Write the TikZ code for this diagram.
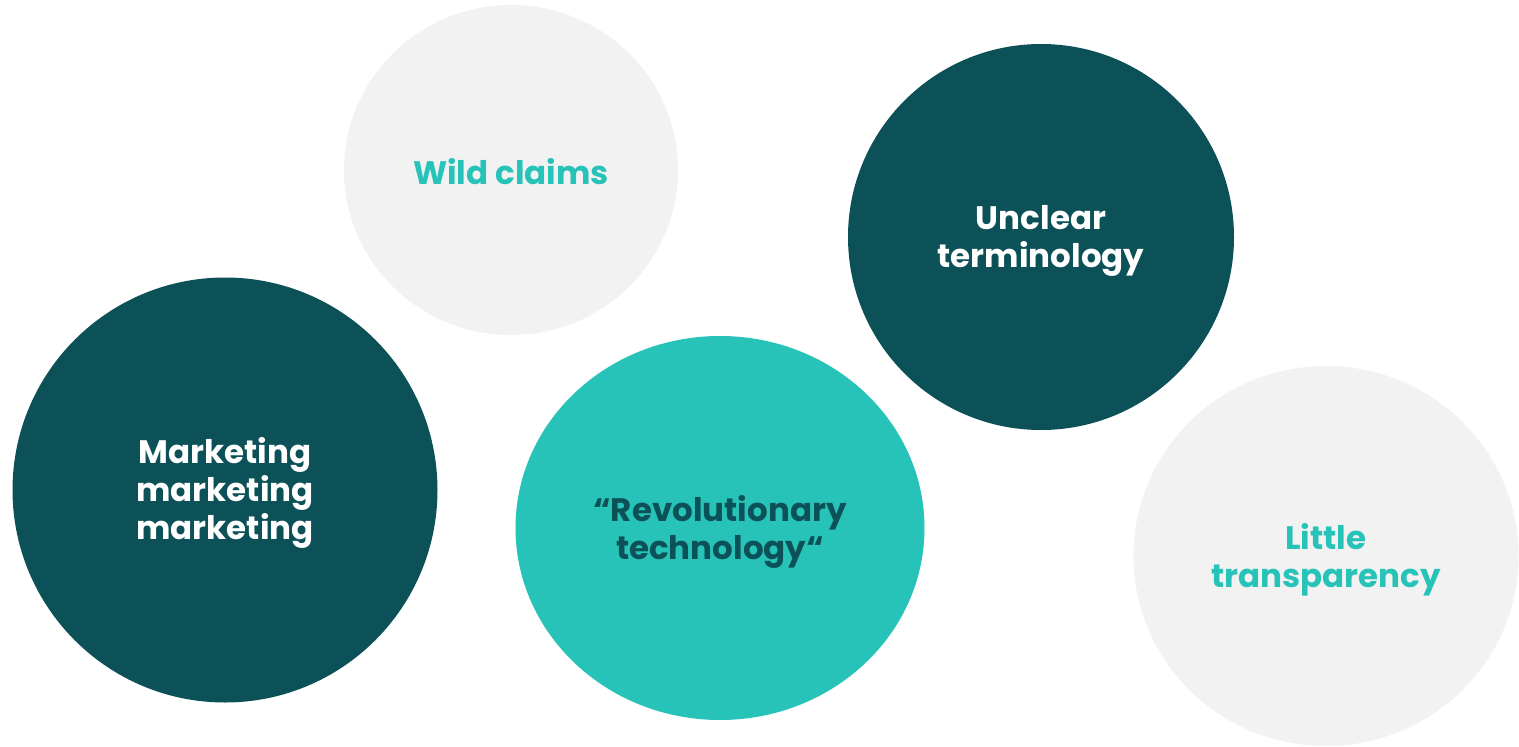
\documentclass[tikz,border=0pt]{standalone}
\usepackage{fontspec}
\setmainfont{Poppins}
\definecolor{darkteal}{HTML}{0B5157}
\definecolor{teal}{HTML}{27C3B8}
\definecolor{lightgray}{HTML}{F2F2F2}
\begin{document}
\begin{tikzpicture}[x=1pt,y=-1pt,
  txt/.style={font=\fontsize{32.5}{38}\selectfont\bfseries, align=center}]
\useasboundingbox (0,0) rectangle (1519,747);
\fill[white] (0,0) rectangle (1519,747);
\fill[lightgray] (511,170) ellipse [x radius=167, y radius=165];
\fill[darkteal] (1041,237) ellipse [x radius=193, y radius=193];
\fill[darkteal] (225,490) ellipse [x radius=212.5, y radius=212.5];
\fill[teal] (720,528) ellipse [x radius=204.5, y radius=192];
\fill[lightgray] (1326,556) ellipse [x radius=192.5, y radius=190];
\node[txt, text=teal] (wild) at (511,172) {Wild claims};
\node[txt, text=white] (unclear) at (1041,241) {Unclear\\terminology};
\node[txt, text=white] (marketing) at (225,493) {Marketing\\marketing\\marketing};
\node[txt, text=darkteal] (rev) at (720,532) {“Revolutionary\\technology“};
\node[txt, text=teal] (little) at (1326,560) {Little\\transparency};
\end{tikzpicture}
\end{document}
